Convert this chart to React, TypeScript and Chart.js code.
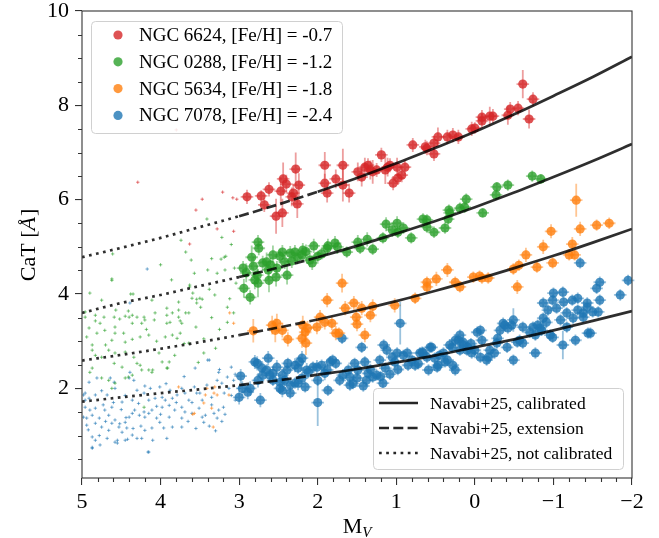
import React, { useEffect, useRef } from 'react';
import { Chart, registerables } from 'chart.js';

Chart.register(...registerables);

const SERIF = "'Liberation Serif', 'Times New Roman', Times, serif";

// ---- clusters ----
const clusterNames = [
  'NGC 6624, [Fe/H] = -0.7',
  'NGC 0288, [Fe/H] = -1.2',
  'NGC 5634, [Fe/H] = -1.8',
  'NGC 7078, [Fe/H] = -2.4',
];
const clusterColors = ['#d62728', '#2ca02c', '#ff7f0e', '#1f77b4'];

// ---- Navabi+25 relation ----
const modelMv = [5, 4.5, 4, 3.5, 3, 2.5, 2, 1.5, 1, 0.5, 0, -0.5, -1, -1.5, -2];
const modelFeHm07 = [4.78, 4.98, 5.19, 5.42, 5.65, 5.9, 6.17, 6.46, 6.77, 7.1, 7.44, 7.81, 8.2, 8.6, 9.03];
const modelFeHm12 = [3.6, 3.81, 3.98, 4.17, 4.36, 4.56, 4.78, 5.02, 5.28, 5.55, 5.84, 6.15, 6.48, 6.82, 7.18];
const modelFeHm18 = [2.59, 2.71, 2.84, 2.98, 3.13, 3.29, 3.46, 3.65, 3.85, 4.07, 4.3, 4.55, 4.81, 5.09, 5.38];
const modelFeHm24 = [1.72, 1.81, 1.9, 1.98, 2.07, 2.17, 2.29, 2.41, 2.55, 2.7, 2.87, 3.04, 3.23, 3.43, 3.64];
const modelLegendLabels = ['Navabi+25, calibrated', 'Navabi+25, extension', 'Navabi+25, not calibrated'];
const extensionStart = 3; // M_V where the not-calibrated part ends
const calibratedStart = 2; // M_V where the calibrated part starts

// ---- axis ticks ----
const xTickValues = [5, 4, 3, 2, 1, 0, -1, -2];
const yTickValues = [2, 4, 6, 8, 10];

// ---- bright stars: [M_V, CaT, error] ----
type Star = [number, number, number];
const ngc6624Stars: Star[] = [
  [2.9, 6.06, 0.15], [2.72, 6.08, 0.12], [2.68, 5.89, 0.15], [2.62, 6.22, 0.15], [2.53, 5.65, 0.37],
  [2.45, 5.72, 0.3], [2.47, 6.18, 0.3], [2.44, 6.44, 0.35], [2.4, 6.33, 0.2], [2.31, 6.14, 0.2],
  [2.33, 6.06, 0.2], [2.28, 6.65, 0.35], [2.26, 5.91, 0.3], [2.24, 6.31, 0.25], [1.91, 6.73, 0.28],
  [1.91, 6.35, 0.2], [1.88, 6.14, 0.2], [1.77, 6.44, 0.2], [1.68, 6.73, 0.35], [1.68, 6.31, 0.35],
  [1.6, 6.14, 0.2], [1.49, 6.59, 0.2], [1.44, 6.48, 0.2], [1.4, 6.69, 0.2], [1.36, 6.73, 0.15],
  [1.33, 6.63, 0.2], [1.3, 6.59, 0.25], [1.25, 6.63, 0.15], [1.19, 6.95, 0.15], [1.14, 6.63, 0.3],
  [1.11, 6.69, 0.2], [1.08, 6.73, 0.15], [1.04, 6.35, 0.15], [0.99, 6.69, 0.2], [0.98, 6.46, 0.15],
  [0.93, 6.52, 0.15], [0.89, 6.69, 0.15], [0.79, 7.16, 0.15], [0.63, 7.12, 0.15], [0.61, 7.09, 0.15],
  [0.52, 7.2, 0.15], [0.52, 6.97, 0.15], [0.47, 7.33, 0.2], [0.35, 7.33, 0.15], [0.28, 7.37, 0.15],
  [0.21, 7.33, 0.15], [0.04, 7.5, 0.15], [0.0, 7.52, 0.12], [-0.09, 7.75, 0.15], [-0.09, 7.67, 0.15],
  [-0.19, 7.77, 0.2], [-0.23, 7.77, 0.15], [-0.42, 7.79, 0.2], [-0.45, 7.92, 0.15], [-0.55, 7.94, 0.15],
  [-0.61, 8.45, 0.3], [-0.69, 7.71, 0.2], [-0.74, 8.13, 0.15],
];
const ngc0288Stars: Star[] = [
  [2.95, 4.55, 0.15], [2.94, 4.12, 0.2], [2.86, 3.93, 0.15], [2.84, 4.78, 0.25], [2.82, 4.59, 0.2],
  [2.76, 5.1, 0.15], [2.75, 4.97, 0.15], [2.77, 4.4, 0.2], [2.76, 4.23, 0.3], [2.7, 4.66, 0.15],
  [2.65, 4.68, 0.2], [2.63, 4.51, 0.2], [2.62, 4.29, 0.25], [2.57, 4.83, 0.2], [2.53, 4.36, 0.2],
  [2.52, 4.55, 0.15], [2.45, 4.89, 0.15], [2.42, 4.68, 0.15], [2.39, 4.4, 0.2], [2.35, 4.87, 0.15],
  [2.29, 4.89, 0.15], [2.26, 4.78, 0.15], [2.2, 4.83, 0.15], [2.19, 4.93, 0.15], [2.1, 4.72, 0.15],
  [2.07, 4.66, 0.15], [2.05, 5.02, 0.15], [1.88, 4.97, 0.15], [1.87, 5.02, 0.15], [1.78, 5.08, 0.15],
  [1.75, 5.0, 0.15], [1.63, 4.89, 0.12], [1.49, 5.1, 0.15], [1.46, 4.97, 0.12], [1.37, 5.16, 0.15],
  [1.3, 4.95, 0.12], [1.17, 5.19, 0.12], [1.13, 5.48, 0.15], [1.05, 5.36, 0.15], [0.99, 5.5, 0.15],
  [0.98, 5.31, 0.12], [0.91, 5.4, 0.12], [0.81, 5.19, 0.12], [0.66, 5.59, 0.12], [0.61, 5.57, 0.12],
  [0.61, 5.42, 0.12], [0.52, 5.31, 0.12], [0.38, 5.4, 0.12], [0.34, 5.59, 0.12], [0.33, 5.78, 0.12],
  [0.32, 5.72, 0.12], [0.19, 5.82, 0.12], [0.13, 5.84, 0.12], [0.11, 6.01, 0.12], [-0.1, 5.72, 0.1],
  [-0.27, 6.1, 0.1], [-0.28, 6.27, 0.1], [-0.42, 6.31, 0.12], [-0.73, 6.5, 0.12], [-0.84, 6.44, 0.1],
  [2.6, 4.62, 0.15], [2.48, 4.8, 0.15], [2.33, 4.7, 0.15], [2.15, 4.9, 0.15], [2.0, 4.8, 0.12],
  [1.95, 4.85, 0.12], [2.91, 4.45, 0.2], [2.8, 4.3, 0.2],
];
const ngc5634Stars: Star[] = [
  [2.82, 3.22, 0.25], [2.58, 3.34, 0.2], [2.54, 3.23, 0.25], [2.52, 3.38, 0.2], [2.45, 3.23, 0.15],
  [2.38, 3.04, 0.15], [2.2, 3.06, 0.2], [2.19, 3.34, 0.2], [2.16, 3.19, 0.2], [2.15, 2.96, 0.25],
  [2.13, 3.28, 0.15], [2.01, 3.3, 0.15], [1.97, 3.51, 0.15], [1.91, 3.4, 0.15], [1.88, 3.87, 0.15],
  [1.82, 3.38, 0.15], [1.77, 3.17, 0.15], [1.73, 3.17, 0.12], [1.69, 4.23, 0.2], [1.65, 3.7, 0.15],
  [1.54, 3.81, 0.15], [1.51, 3.51, 0.15], [1.5, 3.36, 0.15], [1.44, 3.7, 0.15], [1.4, 3.13, 0.15],
  [1.33, 3.55, 0.15], [1.3, 3.74, 0.15], [1.02, 3.76, 0.15], [0.76, 3.91, 0.12], [0.61, 4.25, 0.12],
  [0.61, 4.15, 0.12], [0.49, 4.32, 0.15], [0.35, 4.51, 0.15], [0.25, 4.25, 0.12], [0.19, 4.15, 0.12],
  [0.02, 4.36, 0.12], [-0.06, 4.38, 0.12], [-0.09, 4.34, 0.12], [-0.17, 4.34, 0.12], [-0.49, 4.53, 0.12],
  [-0.54, 4.15, 0.15], [-0.56, 4.61, 0.12], [-0.65, 4.83, 0.15], [-0.79, 4.57, 0.12], [-0.87, 5.0, 0.15],
  [-0.97, 5.33, 0.15], [-0.99, 4.66, 0.12], [-1.2, 4.83, 0.12], [-1.24, 5.06, 0.15], [-1.27, 4.83, 0.12],
  [-1.29, 5.99, 0.35], [-1.34, 5.38, 0.15], [-1.55, 5.46, 0.12], [-1.71, 5.5, 0.12],
];
const ngc7078Stars: Star[] = [
  [2.98, 2.26, 0.15], [3.0, 1.81, 0.15], [2.77, 2.53, 0.15], [2.73, 1.75, 0.15], [2.7, 2.28, 0.15],
  [2.63, 2.64, 0.15], [2.57, 2.32, 0.15], [2.52, 2.45, 0.15], [2.48, 2.13, 0.15], [2.45, 1.96, 0.15],
  [2.39, 2.39, 0.15], [2.35, 2.07, 0.15], [2.29, 2.49, 0.15], [2.25, 2.11, 0.15], [2.2, 2.64, 0.15],
  [2.14, 2.39, 0.15], [2.0, 1.7, 0.5], [2.01, 2.45, 0.15], [1.91, 2.32, 0.15], [2.86, 2.0, 0.15],
  [2.96, 2.0, 0.15], [2.89, 1.92, 0.15], [2.8, 2.56, 0.15], [2.76, 2.17, 0.15], [2.71, 2.43, 0.15],
  [2.65, 2.39, 0.12], [2.61, 2.28, 0.12], [2.57, 2.17, 0.12], [2.48, 2.0, 0.12], [2.45, 2.28, 0.12],
  [2.42, 2.17, 0.12], [2.38, 2.53, 0.12], [2.35, 1.9, 0.12], [2.29, 2.11, 0.12], [2.25, 2.43, 0.12],
  [2.23, 2.56, 0.12], [2.2, 2.22, 0.12], [2.16, 2.03, 0.12], [2.12, 2.34, 0.12], [2.06, 2.45, 0.12],
  [2.0, 2.17, 0.12], [1.95, 2.49, 0.12], [1.88, 2.39, 0.12], [1.87, 1.96, 0.12], [1.84, 2.56, 0.12],
  [1.81, 2.6, 0.12], [1.77, 2.53, 0.12], [1.72, 2.17, 0.12], [1.69, 3.06, 0.12], [1.68, 2.28, 0.12],
  [1.61, 2.39, 0.12], [1.59, 2.24, 0.12], [1.59, 2.07, 0.12], [1.53, 2.53, 0.12], [1.5, 2.22, 0.12],
  [1.49, 2.39, 0.12], [1.44, 2.87, 0.12], [1.4, 2.56, 0.12], [1.38, 2.17, 0.12], [1.36, 2.32, 0.12],
  [1.3, 2.24, 0.12], [1.25, 2.28, 0.12], [1.21, 2.6, 0.12], [1.17, 2.11, 0.12], [1.16, 2.92, 0.12],
  [1.14, 2.43, 0.12], [1.12, 2.81, 0.12], [1.05, 2.66, 0.12], [1.02, 2.56, 0.12], [0.99, 2.75, 0.12],
  [0.95, 3.38, 0.45], [0.91, 2.7, 0.12], [0.86, 2.75, 0.12], [0.85, 2.49, 0.12], [0.76, 2.49, 0.12],
  [0.7, 2.75, 0.12], [0.67, 2.77, 0.12], [0.66, 2.75, 0.12], [0.61, 2.66, 0.12], [0.59, 2.39, 0.12],
  [0.57, 2.87, 0.12], [0.55, 2.87, 0.12], [0.51, 2.64, 0.12], [0.48, 2.45, 0.12], [0.47, 2.49, 0.12],
  [0.4, 2.75, 0.12], [0.38, 2.56, 0.12], [0.32, 2.92, 0.12], [0.29, 2.87, 0.12], [0.28, 2.49, 0.12],
  [0.25, 3.02, 0.12], [0.25, 2.39, 0.12], [0.21, 3.02, 0.12], [0.19, 3.13, 0.12], [0.19, 2.81, 0.12],
  [0.15, 2.98, 0.12], [0.15, 2.92, 0.12], [0.1, 2.81, 0.12], [0.09, 2.87, 0.12], [0.04, 2.75, 0.12],
  [0.0, 2.81, 0.12], [-0.03, 3.19, 0.12], [-0.07, 3.23, 0.12], [-0.07, 2.66, 0.12], [-0.09, 3.02, 0.12],
  [-0.15, 2.6, 0.12], [-0.17, 2.66, 0.12], [-0.19, 2.81, 0.12], [-0.28, 2.96, 0.12], [-0.29, 3.06, 0.12],
  [-0.32, 3.23, 0.12], [-0.36, 3.38, 0.12], [-0.38, 3.34, 0.12], [-0.41, 2.87, 0.12], [-0.42, 3.28, 0.12],
  [-0.47, 3.34, 0.12], [-0.49, 3.45, 0.25], [-0.49, 2.6, 0.12], [-0.54, 2.98, 0.12], [-0.57, 3.02, 0.12],
  [-0.61, 3.3, 0.12], [-0.61, 2.96, 0.12], [-0.7, 3.19, 0.12], [-0.74, 3.3, 0.12], [-0.77, 2.75, 0.12],
  [-0.77, 3.13, 0.12], [-0.8, 3.34, 0.12], [-0.83, 3.28, 0.12], [-0.85, 3.23, 0.12], [-0.87, 3.49, 0.12],
  [-0.87, 3.81, 0.12], [-0.91, 3.4, 0.12], [-0.93, 3.66, 0.12], [-0.96, 3.13, 0.12], [-0.99, 3.87, 0.12],
  [-0.99, 3.08, 0.12], [-1.0, 4.02, 0.12], [-1.04, 3.7, 0.12], [-1.09, 3.45, 0.12], [-1.12, 4.04, 0.12],
  [-1.12, 2.92, 0.3], [-1.13, 3.83, 0.12], [-1.17, 3.6, 0.12], [-1.17, 3.3, 0.12], [-1.24, 3.87, 0.12],
  [-1.25, 3.49, 0.12], [-1.28, 3.02, 0.12], [-1.31, 3.66, 0.12], [-1.31, 3.91, 0.12], [-1.34, 4.66, 0.12],
  [-1.38, 3.51, 0.12], [-1.38, 3.6, 0.12], [-1.43, 3.72, 0.12], [-1.43, 3.81, 0.12], [-1.44, 3.17, 0.12],
  [-1.47, 3.17, 0.12], [-1.5, 3.62, 0.12], [-1.55, 4.12, 0.12], [-1.57, 3.62, 0.12], [-1.59, 3.87, 0.12],
  [-1.59, 4.25, 0.12], [-1.85, 3.98, 0.12], [-1.95, 4.29, 0.12],
  [1.55, 2.1, 0.12], [1.42, 2.05, 0.12], [1.33, 2.4, 0.12], [1.2, 2.25, 0.12], [1.08, 2.3, 0.12],
  [0.98, 2.4, 0.12], [0.8, 2.6, 0.12], [0.72, 2.52, 0.12], [0.45, 2.7, 0.12], [0.35, 2.6, 0.12],
  [0.05, 2.95, 0.12], [-0.25, 2.75, 0.12],
];
const starXErr = 0.08;

// ---- faint stars: [M_V, CaT] ----
type Faint = [number, number];
const ngc6624Faint: Faint[] = [
  [4.29, 6.37], [3.8, 7.48], [3.47, 6.01], [3.55, 5.78], [3.21, 6.16], [3.28, 5.38], [3.08, 6.04],
  [3.03, 6.01], [3.07, 5.33], [3.63, 5.06],
];
const ngc0288Faint: Faint[] = [
  [3.41, 5.59], [3.74, 5.14], [3.68, 4.89], [3.61, 4.72], [4.61, 4.85], [4.62, 4.29], [4.9, 4.02],
  [4.38, 4.0], [4.75, 3.87], [4.57, 3.66], [4.41, 3.64], [4.36, 3.55], [4.11, 3.87], [3.92, 3.7],
  [3.77, 3.83], [3.68, 3.6], [3.63, 4.15], [3.59, 4.02], [3.6, 3.91], [3.54, 3.89], [3.54, 3.81],
  [3.47, 3.89], [3.49, 3.72], [3.57, 4.44], [3.4, 4.51], [3.28, 4.44], [3.23, 4.74], [3.19, 4.78],
  [3.18, 4.51], [3.31, 3.98], [3.15, 3.72], [3.07, 3.6], [3.04, 4.23], [3.17, 4.8], [3.92, 3.55],
  [3.77, 3.66], [4.07, 3.6], [4.21, 3.51], [4.96, 3.51], [4.83, 3.55], [4.72, 3.51], [4.45, 3.53],
  [3.85, 3.6], [3.64, 3.6], [4.96, 3.62], [4.83, 3.43], [4.77, 3.38], [4.59, 3.51], [4.58, 3.3],
  [4.52, 3.47], [4.4, 3.51], [4.36, 3.38], [4.3, 3.51], [4.24, 3.38], [4.2, 3.45], [4.08, 3.45],
  [3.92, 3.38], [3.88, 3.4], [3.77, 3.51], [3.73, 3.38], [4.91, 3.28], [4.81, 3.17], [4.71, 3.23],
  [4.58, 3.17], [4.47, 3.17], [4.45, 2.98], [4.36, 3.04], [4.26, 3.09], [4.15, 3.13], [3.94, 3.09],
  [3.85, 3.13], [3.79, 3.06], [3.75, 3.17], [3.64, 2.96], [4.87, 2.92], [4.87, 2.81], [4.83, 2.7],
  [4.75, 2.66], [4.66, 2.81], [4.58, 2.75], [4.45, 2.77], [4.34, 2.66], [4.3, 2.53], [4.49, 2.45],
  [4.59, 2.53], [4.26, 2.49], [4.24, 2.39], [4.15, 2.39], [4.11, 2.34], [4.02, 2.75], [3.98, 2.56],
  [3.92, 2.43], [3.89, 2.56], [4.87, 2.43], [4.9, 2.34], [4.75, 2.22], [4.66, 2.17], [4.62, 2.0],
  [4.58, 2.11], [4.45, 2.22], [4.36, 2.28], [4.21, 1.6], [4.41, 2.24], [4.1, 2.39], [3.91, 2.43],
  [3.75, 3.43], [3.63, 4.19], [3.5, 3.91], [4.62, 4.32], [4.35, 4.0], [4.94, 3.09], [3.55, 3.3],
  [3.45, 3.05], [3.35, 3.5], [3.25, 3.25], [3.12, 3.9], [3.38, 4.1], [3.7, 2.95], [3.45, 2.75],
  [3.3, 2.85], [3.52, 2.55], [3.15, 3.4], [3.06, 4.55], [3.1, 5.05], [3.22, 5.2], [3.35, 4.75],
  [3.86, 4.3], [4.0, 4.62], [4.18, 3.25], [4.62, 3.02], [4.05, 3.0], [3.82, 2.7], [4.7, 2.92],
];
const ngc5634Faint: Faint[] = [
  [3.77, 2.03], [3.41, 2.0], [3.31, 2.03], [3.43, 1.86], [3.32, 1.9], [3.28, 1.86], [3.13, 1.86],
  [3.45, 1.69], [3.35, 1.58], [3.57, 1.47], [3.12, 3.6], [3.07, 3.38], [3.59, 1.45], [3.33, 1.18],
];
const ngc7078Faint: Faint[] = [
  [4.98, 1.86], [4.91, 1.79], [4.83, 1.86], [4.96, 1.6], [4.9, 1.54], [4.83, 1.58], [4.98, 1.39],
  [4.94, 1.37], [4.87, 1.43], [4.78, 1.37], [4.71, 1.54], [4.66, 1.43], [4.94, 1.22], [4.83, 1.26],
  [4.75, 1.18], [4.62, 1.26], [4.58, 1.33], [4.53, 1.18], [4.45, 1.28], [4.4, 1.39], [4.36, 1.47],
  [4.33, 1.54], [4.27, 1.43], [4.21, 1.5], [4.2, 1.39], [4.15, 1.47], [4.11, 1.54], [4.05, 1.37],
  [3.98, 1.6], [3.89, 1.64], [3.82, 1.54], [3.73, 1.6], [3.69, 1.5], [3.6, 1.47], [3.51, 1.58],
  [3.47, 1.39], [3.43, 1.43], [3.32, 1.47], [3.28, 1.37], [3.26, 1.54], [4.87, 0.97], [4.83, 0.9],
  [4.77, 0.8], [4.68, 0.94], [4.58, 0.86], [4.55, 0.84], [4.45, 0.9], [4.36, 1.01], [4.3, 0.94],
  [4.24, 0.94], [4.15, 0.65], [4.2, 1.11], [4.11, 1.16], [4.49, 1.07], [4.66, 1.11], [4.87, 0.75],
  [4.43, 1.16], [3.96, 1.16], [3.85, 1.18], [4.01, 1.28], [3.89, 1.39], [3.73, 1.37], [4.91, 2.13],
  [4.81, 2.22], [4.64, 2.22], [4.59, 2.13], [4.58, 2.0], [4.4, 2.22], [4.34, 2.17], [4.39, 2.34],
  [4.3, 1.96], [4.21, 1.9], [4.13, 2.0], [4.01, 2.03], [3.98, 1.81], [3.88, 1.96], [3.85, 1.79],
  [3.79, 1.86], [3.73, 2.0], [3.69, 1.9], [3.57, 2.03], [3.56, 2.43], [3.54, 1.9], [3.47, 1.75],
  [3.41, 2.07], [3.38, 2.6], [3.35, 1.81], [3.28, 2.17], [3.26, 2.34], [3.22, 2.11], [3.19, 1.9],
  [3.15, 2.24], [3.13, 2.0], [3.07, 2.17], [3.05, 1.75], [4.96, 1.9], [4.68, 1.86], [4.49, 1.71],
  [4.36, 1.75], [4.15, 1.75], [4.07, 1.79], [3.94, 1.75], [3.64, 1.75], [4.96, 1.75], [3.4, 2.6],
  [3.2, 1.6], [3.22, 1.3], [3.45, 1.28], [3.73, 1.18], [3.92, 0.94], [4.16, 0.65], [4.55, 0.9],
  [4.42, 0.92], [4.87, 0.73], [4.17, 4.53], [4.39, 3.81], [3.6, 1.7], [3.5, 1.9], [3.35, 1.65],
  [3.1, 1.85], [3.18, 1.45], [3.0, 2.0], [3.05, 2.3], [4.73, 1.65], [4.5, 1.55], [4.28, 1.68],
  [4.05, 1.62], [3.8, 1.7], [4.62, 1.6], [4.44, 1.38], [4.52, 1.25], [4.7, 1.3], [4.25, 1.2],
  [4.0, 1.45], [3.65, 1.3], [3.55, 1.15], [3.38, 1.2], [3.3, 1.1], [4.92, 1.12], [4.78, 1.0],
  [4.1, 0.9], [4.35, 1.15], [4.6, 1.7], [3.93, 2.1], [4.2, 2.05], [4.75, 1.95], [4.45, 1.85],
  [3.7, 2.25], [3.25, 2.4], [3.1, 2.45],
];

const brightSets = [ngc6624Stars, ngc0288Stars, ngc5634Stars, ngc7078Stars];
const faintSets = [ngc6624Faint, ngc0288Faint, ngc5634Faint, ngc7078Faint];
const modelSets = [modelFeHm07, modelFeHm12, modelFeHm18, modelFeHm24];

const DOTTED = [2.7, 4.5];
const DASHED = [10, 4.3];

function rgba(hex: string, a: number) {
  const n = parseInt(hex.slice(1), 16);
  return `rgba(${(n >> 16) & 255},${(n >> 8) & 255},${n & 255},${a})`;
}

const fmtTick = (v: any) => {
  const n = Number(v);
  return n < 0 ? '\u2212' + Math.abs(n) : String(n);
};

const decorPlugin = {
  id: 'decor',
  beforeDatasetsDraw(chart: any) {
    const ctx = chart.ctx;
    const xs = chart.scales.x;
    const ys = chart.scales.y;
    ctx.save();
    ctx.lineCap = 'butt';
    chart.data.datasets.forEach((ds: any) => {
      if (!ds.errY) return;
      ctx.strokeStyle = rgba(ds.baseColor, 0.45);
      ctx.lineWidth = 1.8;
      ds.data.forEach((p: any, i: number) => {
        const px = xs.getPixelForValue(p.x);
        const py = ys.getPixelForValue(p.y);
        ctx.beginPath();
        ctx.moveTo(px, ys.getPixelForValue(p.y - ds.errY[i]));
        ctx.lineTo(px, ys.getPixelForValue(p.y + ds.errY[i]));
        ctx.moveTo(xs.getPixelForValue(p.x - starXErr), py);
        ctx.lineTo(xs.getPixelForValue(p.x + starXErr), py);
        ctx.stroke();
      });
    });
    ctx.restore();
  },
  afterDraw(chart: any) {
    const ctx = chart.ctx;
    const a = chart.chartArea;
    const xs = chart.scales.x;
    const ys = chart.scales.y;
    ctx.save();
    // frame
    ctx.strokeStyle = '#333';
    ctx.lineWidth = 1.1;
    ctx.strokeRect(a.left, a.top, a.right - a.left, a.bottom - a.top);
    // minor ticks
    ctx.beginPath();
    for (let k = -10; k <= 25; k++) {
      if (k % 5 === 0) continue;
      const px = Math.round(xs.getPixelForValue(k / 5)) + 0.5;
      ctx.moveTo(px, a.bottom);
      ctx.lineTo(px, a.bottom + 4);
    }
    for (let k = 1; k <= 19; k++) {
      if (k % 4 === 0) continue;
      const py = Math.round(ys.getPixelForValue(k * 0.5)) + 0.5;
      ctx.moveTo(a.left, py);
      ctx.lineTo(a.left - 4, py);
    }
    ctx.stroke();

    // axis titles
    ctx.fillStyle = '#000';
    ctx.textBaseline = 'alphabetic';
    ctx.textAlign = 'left';
    const cx = (a.left + a.right) / 2;
    ctx.font = `22px ${SERIF}`;
    const wM = ctx.measureText('M').width;
    ctx.font = `italic 15px ${SERIF}`;
    const wV = ctx.measureText('V').width;
    const x0 = cx - (wM + wV) / 2;
    ctx.font = `22px ${SERIF}`;
    ctx.fillText('M', x0, 533);
    ctx.font = `italic 15px ${SERIF}`;
    ctx.fillText('V', x0 + wM, 537);

    ctx.save();
    ctx.translate(35, (a.top + a.bottom) / 2 + 1);
    ctx.rotate(-Math.PI / 2);
    ctx.font = `22px ${SERIF}`;
    const p1 = 'CaT [';
    const w1 = ctx.measureText(p1).width;
    ctx.font = `italic 22px ${SERIF}`;
    const w2 = ctx.measureText('\u00C5').width;
    ctx.font = `22px ${SERIF}`;
    const w3 = ctx.measureText(']').width;
    let tx = -(w1 + w2 + w3) / 2;
    ctx.fillText(p1, tx, 0);
    tx += w1;
    ctx.font = `italic 22px ${SERIF}`;
    ctx.fillText('\u00C5', tx, 0);
    tx += w2 + 1;
    ctx.font = `22px ${SERIF}`;
    ctx.fillText(']', tx, 0);
    ctx.restore();

    const roundBox = (x: number, y: number, w: number, h: number, r: number) => {
      ctx.beginPath();
      ctx.moveTo(x + r, y);
      ctx.lineTo(x + w - r, y);
      ctx.arcTo(x + w, y, x + w, y + r, r);
      ctx.lineTo(x + w, y + h - r);
      ctx.arcTo(x + w, y + h, x + w - r, y + h, r);
      ctx.lineTo(x + r, y + h);
      ctx.arcTo(x, y + h, x, y + h - r, r);
      ctx.lineTo(x, y + r);
      ctx.arcTo(x, y, x + r, y, r);
      ctx.closePath();
      ctx.fillStyle = 'rgba(255,255,255,0.85)';
      ctx.fill();
      ctx.strokeStyle = '#d0d0d0';
      ctx.lineWidth = 1;
      ctx.stroke();
    };

    // cluster legend
    roundBox(91.5, 21.5, 251, 112, 4);
    ctx.font = `19px ${SERIF}`;
    ctx.textBaseline = 'middle';
    clusterNames.forEach((name, i) => {
      const y = 35 + i * 26.8;
      ctx.fillStyle = rgba(clusterColors[i], 0.8);
      ctx.beginPath();
      ctx.arc(118, y, 4.6, 0, Math.PI * 2);
      ctx.fill();
      ctx.fillStyle = '#000';
      ctx.fillText(name, 139, y + 1);
    });

    // model legend
    roundBox(373.5, 388.5, 250, 81, 4);
    ctx.font = `17.5px ${SERIF}`;
    const dashes = [[], DASHED, DOTTED];
    modelLegendLabels.forEach((label, i) => {
      const y = 403 + i * 25;
      ctx.strokeStyle = 'rgba(0,0,0,0.85)';
      ctx.lineWidth = 2.7;
      ctx.setLineDash(dashes[i]);
      ctx.beginPath();
      ctx.moveTo(379, y);
      ctx.lineTo(418, y);
      ctx.stroke();
      ctx.setLineDash([]);
      ctx.fillStyle = '#000';
      ctx.fillText(label, 430, y + 1);
    });
    ctx.restore();
  },
};

export default function App() {
  const ref = useRef<HTMLCanvasElement | null>(null);
  useEffect(() => {
    const canvas = ref.current;
    if (!canvas) return;

    const datasets: any[] = [];
    modelSets.forEach((vals) => {
      datasets.push({
        type: 'line',
        data: modelMv.map((m, i) => ({ x: m, y: vals[i] })),
        borderColor: 'rgba(0,0,0,0.82)',
        borderWidth: 2.7,
        borderCapStyle: 'butt',
        pointRadius: 0,
        fill: false,
        cubicInterpolationMode: 'monotone',
        segment: {
          borderDash: (c: any) =>
            c.p0.parsed.x > extensionStart + 0.01 ? DOTTED : c.p0.parsed.x > calibratedStart + 0.01 ? DASHED : [],
        },
      });
    });
    brightSets.forEach((stars, i) => {
      datasets.push({
        type: 'scatter',
        data: stars.map((s) => ({ x: s[0], y: s[1] })),
        errY: stars.map((s) => s[2]),
        baseColor: clusterColors[i],
        backgroundColor: rgba(clusterColors[i], 0.8),
        borderWidth: 0,
        pointRadius: 4.6,
      });
    });
    faintSets.forEach((stars, i) => {
      datasets.push({
        type: 'scatter',
        data: stars.map((s) => ({ x: s[0], y: s[1] })),
        pointStyle: 'cross',
        borderColor: rgba(clusterColors[i], 0.6),
        backgroundColor: rgba(clusterColors[i], 0.6),
        borderWidth: 1,
        pointRadius: 1.7,
      });
    });

    const tickFont = { family: SERIF, size: 22 };
    const chart = new Chart(canvas, {
      type: 'scatter',
      data: { datasets },
      options: {
        animation: false,
        responsive: false,
        devicePixelRatio: 1,
        events: [],
        layout: { padding: { top: 11, right: 27, left: 0, bottom: 0 } },
        plugins: { legend: { display: false }, tooltip: { enabled: false } },
        scales: {
          x: {
            type: 'linear',
            reverse: true,
            min: -2,
            max: 5,
            afterBuildTicks: (s: any) => {
              s.ticks = xTickValues.map((v) => ({ value: v }));
            },
            afterFit: (s: any) => {
              s.height = 60;
              s.paddingLeft = 0;
              s.paddingRight = 0;
            },
            ticks: { font: tickFont, color: '#000', padding: 4, maxRotation: 0, autoSkip: false, callback: fmtTick },
            grid: { drawOnChartArea: false, drawTicks: true, tickLength: 7, color: '#333', lineWidth: 1.1 },
            border: { display: false },
          },
          y: {
            type: 'linear',
            min: 0.1,
            max: 10,
            afterBuildTicks: (s: any) => {
              s.ticks = yTickValues.map((v) => ({ value: v }));
            },
            afterFit: (s: any) => {
              s.width = 82;
              s.paddingTop = 0;
              s.paddingBottom = 0;
            },
            ticks: { font: tickFont, color: '#000', padding: 6, autoSkip: false, callback: fmtTick },
            grid: { drawOnChartArea: false, drawTicks: true, tickLength: 7, color: '#333', lineWidth: 1.1 },
            border: { display: false },
          },
        },
      } as any,
      plugins: [decorPlugin as any],
    });
    return () => chart.destroy();
  }, []);

  return (
    <div style={{ position: 'absolute', left: 0, top: 0, width: 659, height: 538, background: '#fff' }}>
      <canvas ref={ref} width={659} height={538} style={{ display: 'block', width: 659, height: 538 }} />
    </div>
  );
}
